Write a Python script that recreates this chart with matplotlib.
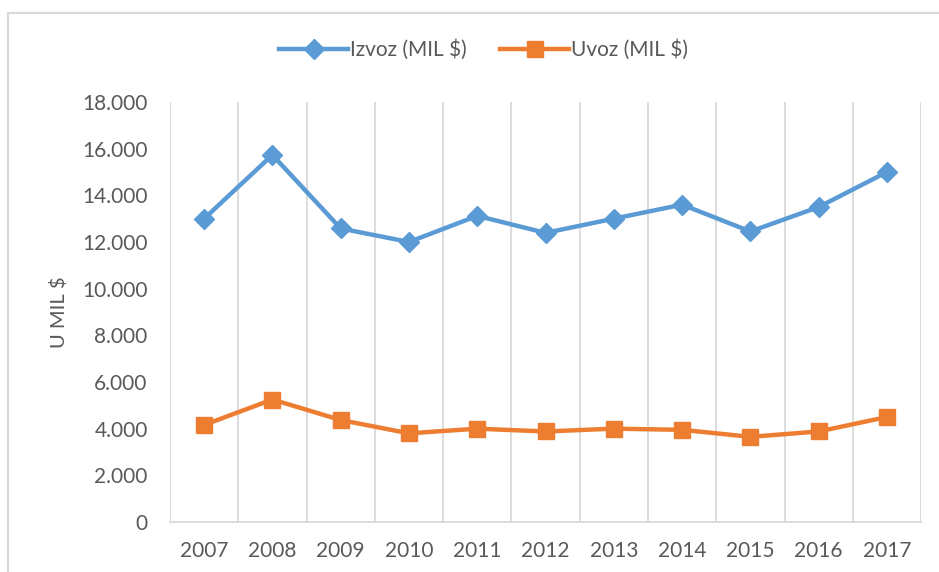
import matplotlib.pyplot as plt
from matplotlib.patches import Rectangle
from matplotlib.ticker import FuncFormatter, MultipleLocator

# Data
years = ['2007', '2008', '2009', '2010', '2011', '2012', '2013', '2014', '2015', '2016', '2017']
izvoz = [13000, 15730, 12580, 12000, 13120, 12390, 13000, 13600, 12450, 13500, 15000]
uvoz = [4160, 5250, 4370, 3800, 4000, 3880, 4000, 3950, 3650, 3880, 4500]

plt.rcParams['font.family'] = ['Lato', 'DejaVu Sans']
text_color = '#595959'
grid_color = '#d9d9d9'

fig = plt.figure(figsize=(9.39, 5.72), dpi=100)
ax = fig.add_axes([0.181, 0.0874, 0.8, 0.7343])

x = list(range(len(years)))
ax.plot(x, izvoz, color='#5B9BD5', lw=3.2, marker='D', ms=10,
        label='Izvoz (MIL $)', solid_joinstyle='round')
ax.plot(x, uvoz, color='#ED7D31', lw=3.2, marker='s', ms=12,
        label='Uvoz (MIL $)', solid_joinstyle='round')

ax.set_xlim(-0.5, len(years) - 0.5)
ax.set_ylim(0, 18000)
ax.yaxis.set_major_locator(MultipleLocator(2000))
ax.yaxis.set_major_formatter(FuncFormatter(lambda v, p: f'{int(v):,}'.replace(',', '.')))

ax.set_xticks(x)
ax.set_xticklabels(years)
# vertical gridlines between categories
for b in range(len(years) + 1):
    ax.axvline(b - 0.5, color=grid_color, lw=1.3, zorder=0)

for s in ['top', 'right', 'left']:
    ax.spines[s].set_visible(False)
ax.spines['bottom'].set_color(grid_color)
ax.spines['bottom'].set_linewidth(1.3)

ax.tick_params(axis='both', length=0, colors=text_color)
ax.tick_params(axis='y', labelsize=15, pad=16)
ax.tick_params(axis='x', labelsize=15, pad=14)

ax.set_ylabel('U MIL $', fontsize=14.5, color=text_color, labelpad=10)

leg = fig.legend(loc='center', bbox_to_anchor=(0.515, 0.913), ncol=2, frameon=False,
                 fontsize=15, handlelength=3.3, handletextpad=0.1, columnspacing=1.6)
for t in leg.get_texts():
    t.set_color(text_color)

# chart border
fig.patches.append(Rectangle((8 / 939, -0.05), 1.1, 1.05 - 13 / 572, transform=fig.transFigure,
                             fill=False, edgecolor='#d9d9d9', lw=1.5))

fig.savefig('out.png', dpi=100)
